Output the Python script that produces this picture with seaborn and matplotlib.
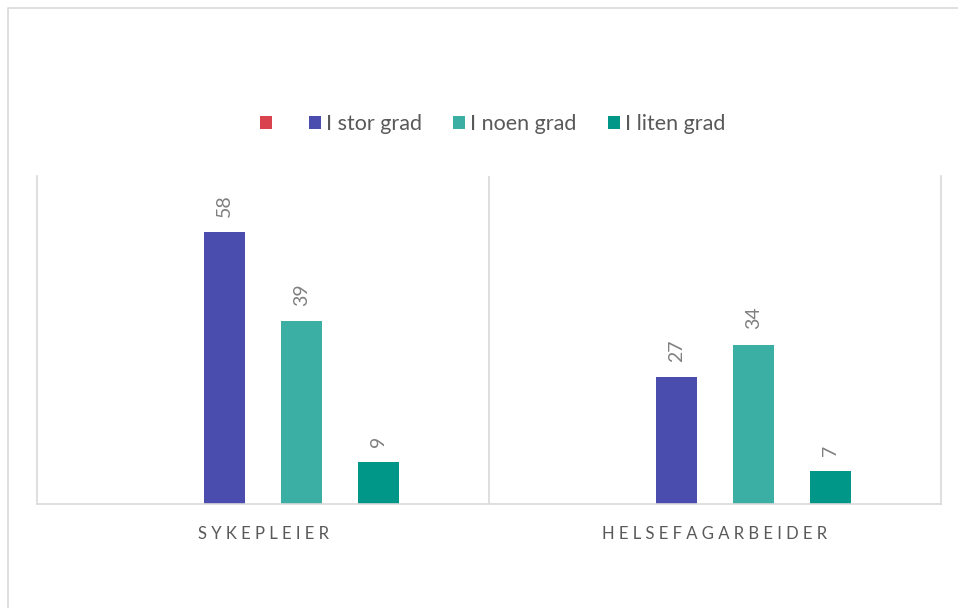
import matplotlib
matplotlib.use("Agg")
import matplotlib.pyplot as plt
from matplotlib.patches import Patch
from matplotlib.lines import Line2D
import pandas as pd
import seaborn as sns

# Data
categories = ["SYKEPLEIER", "HELSEFAGARBEIDER"]
series = ["", "I stor grad", "I noen grad", "I liten grad"]
values_blank = [0, 0]
values_stor = [58, 27]
values_noen = [39, 34]
values_liten = [9, 7]
colors = ["#D9434E", "#4B4DAE", "#3BAFA3", "#009688"]

rows = []
for name, vals in zip(series, [values_blank, values_stor, values_noen, values_liten]):
    for cat, v in zip(categories, vals):
        rows.append({"kategori": cat, "serie": name, "verdi": v})
df = pd.DataFrame(rows)

sns.set_theme(style="white")
plt.rcParams["font.family"] = ["Lato", "DejaVu Sans"]

W, H = 958, 608
fig = plt.figure(figsize=(W / 100, H / 100), dpi=100)
ax = fig.add_axes([37 / W, 1 - 504 / H, (941 - 37) / W, (504 - 176) / H])

sns.barplot(data=df, x="kategori", y="verdi", hue="serie", hue_order=series,
            order=categories, palette=colors, saturation=1, width=0.68, gap=0.47,
            errorbar=None, linewidth=0, legend=False, ax=ax)

ax.set_xlim(-0.5, 1.5)
ax.set_ylim(0, 70)
ax.set_xlabel("")
ax.set_ylabel("")
ax.set_yticks([])

grid_c = "#D9D9D9"
for s in ["left", "right", "bottom"]:
    ax.spines[s].set_visible(True)
    ax.spines[s].set_color(grid_c)
    ax.spines[s].set_linewidth(1.2)
ax.spines["top"].set_visible(False)
ax.axvline(0.5, color=grid_c, lw=1.2)

# Letter-spaced category labels
ax.set_xticks(range(len(categories)))
ax.set_xticklabels([" ".join(c) for c in categories], color="#595959", fontsize=12)
ax.tick_params(axis="x", length=0, pad=16)

# Value labels above the bars
for cont in ax.containers[1:]:
    ax.bar_label(cont, labels=[f"{int(v)}" for v in cont.datavalues],
                 rotation=90, padding=11, color="#808080", fontsize=14)

# Legend
handles = [Patch(facecolor=c, edgecolor="none") for c in colors]
fig.legend(handles, series, loc="center", bbox_to_anchor=(493 / W, 1 - 124 / H),
           ncol=4, frameon=False, fontsize=15.5, labelcolor="#595959",
           handlelength=0.55, handleheight=0.55, handletextpad=0.25,
           columnspacing=1.45)

# Chart frame
fig.add_artist(Line2D([8 / W, 8 / W, 1.0], [0, 1 - 8 / H, 1 - 8 / H],
                      transform=fig.transFigure, color=grid_c, lw=1.2))

fig.savefig("out.png", dpi=100)
